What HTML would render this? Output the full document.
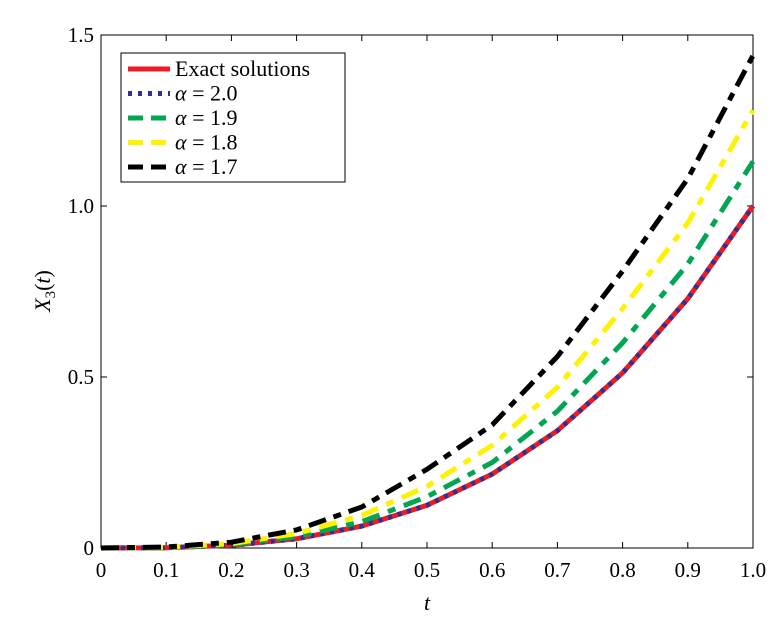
<!DOCTYPE html>
<html><head><meta charset="utf-8"><style>
body{margin:0;background:#fff;}
svg text{font-family:"Liberation Serif",serif;fill:#000;}
</style></head><body>
<svg id="chart" width="781" height="637" xmlns="http://www.w3.org/2000/svg">
<g id="plot"></g>
</svg>
<script>
const tVals=[0,0.1,0.2,0.3,0.4,0.5,0.6,0.7,0.8,0.9,1.0];
const exactVals=[0,0.001,0.008,0.027,0.064,0.125,0.216,0.343,0.512,0.729,1.0];
const a20Vals=[0,0.001,0.008,0.027,0.064,0.125,0.216,0.343,0.512,0.729,1.0];
const a19Vals=[0,0.001,0.01,0.033,0.077,0.15,0.25,0.40,0.60,0.83,1.13];
const a18Vals=[0,0.002,0.013,0.042,0.095,0.18,0.30,0.47,0.70,0.95,1.28];
const a17Vals=[0,0.003,0.017,0.053,0.12,0.23,0.36,0.56,0.81,1.08,1.44];
const xTicks=[0,0.1,0.2,0.3,0.4,0.5,0.6,0.7,0.8,0.9,1.0];
const xTickLabels=["0","0.1","0.2","0.3","0.4","0.5","0.6","0.7","0.8","0.9","1.0"];
const yTicks=[0,0.5,1.0,1.5];
const yTickLabels=["0","0.5","1.0","1.5"];

const L=101,R=753,T=35,B=548;
const X=v=>L+(v-0)/(1-0)*(R-L);
const Y=v=>B-(v-0)/(1.5-0)*(B-T);
const NS="http://www.w3.org/2000/svg";
const g=document.getElementById('plot');
function mk(tag,attrs){const e=document.createElementNS(NS,tag);for(const k in attrs)e.setAttribute(k,attrs[k]);g.appendChild(e);return e;}

let e=mk('rect',{x:L,y:T,width:R-L,height:B-T,fill:'none',stroke:'#000','stroke-width':1});



xTicks.forEach((v,i)=>{
  let t1=mk('line',{x1:X(v),x2:X(v),y1:B,y2:B-6,stroke:'#000'});
  
  
  let t2=mk('line',{x1:X(v),x2:X(v),y1:T,y2:T+6,stroke:'#000'});
  
  
  let tx=mk('text',{x:X(v),y:B+29,'text-anchor':'middle','font-size':21});
  tx.textContent=xTickLabels[i];
  
  
});
yTicks.forEach((v,i)=>{
  let t1=mk('line',{x1:L,x2:L+6,y1:Y(v),y2:Y(v),stroke:'#000'});
  
  
  let t2=mk('line',{x1:R,x2:R-6,y1:Y(v),y2:Y(v),stroke:'#000'});
  
  
  let tx=mk('text',{x:L-7,y:Y(v)+7,'text-anchor':'end','font-size':21});
  tx.textContent=yTickLabels[i];
  
  
});

const series=[
 {vals:exactVals,color:'#ed1c24',dash:'',name:'series-exact'},
 {vals:a20Vals,color:'#2e3192',dash:'4 6',name:'series-alpha-2-0'},
 {vals:a19Vals,color:'#00a651',dash:'18 9 8 9',name:'series-alpha-1-9'},
 {vals:a18Vals,color:'#fff200',dash:'18 9 8 9',name:'series-alpha-1-8'},
 {vals:a17Vals,color:'#000000',dash:'18 8 8 8',name:'series-alpha-1-7'}
];
series.forEach(s=>{
  const d=s.vals.map((v,i)=>(i?'L':'M')+X(tVals[i]).toFixed(1)+' '+Y(v).toFixed(1)).join(' ');
  let p=mk('path',{d:d,fill:'none',stroke:s.color,'stroke-width':5,'stroke-dasharray':s.dash});
  
  
});

// legend
let lb=mk('rect',{x:121,y:53,width:224,height:129,fill:'#fff',stroke:'#000','stroke-width':1});


const legLabels=['2.0','1.9','1.8','1.7'];
const legDash=['','4 6','15 8','15 8','15 8'];
series.forEach((s,i)=>{
  const yy=69+i*24.5;
  let ln=mk('line',{x1:128,x2:170,y1:yy,y2:yy,stroke:s.color,'stroke-width':5,'stroke-dasharray':legDash[i]});
  
  
  let tx=mk('text',{x:175,y:yy+7,'font-size':22});
  if(i===0) tx.textContent='Exact solutions';
  else tx.innerHTML='<tspan font-style="italic">α</tspan> = '+legLabels[i-1];
  
  
});

let xl=mk('text',{x:427,y:610,'text-anchor':'middle','font-size':22,'font-style':'italic'});
xl.textContent='t';


let yl=mk('text',{x:0,y:0,'text-anchor':'middle','font-size':22,'font-style':'italic',transform:'translate(50,291) rotate(-90)'});
yl.innerHTML='X<tspan font-size="15" dy="5" font-style="normal">3</tspan><tspan dy="-5" font-style="normal">(</tspan>t<tspan font-style="normal">)</tspan>';


</script>
</body></html>
